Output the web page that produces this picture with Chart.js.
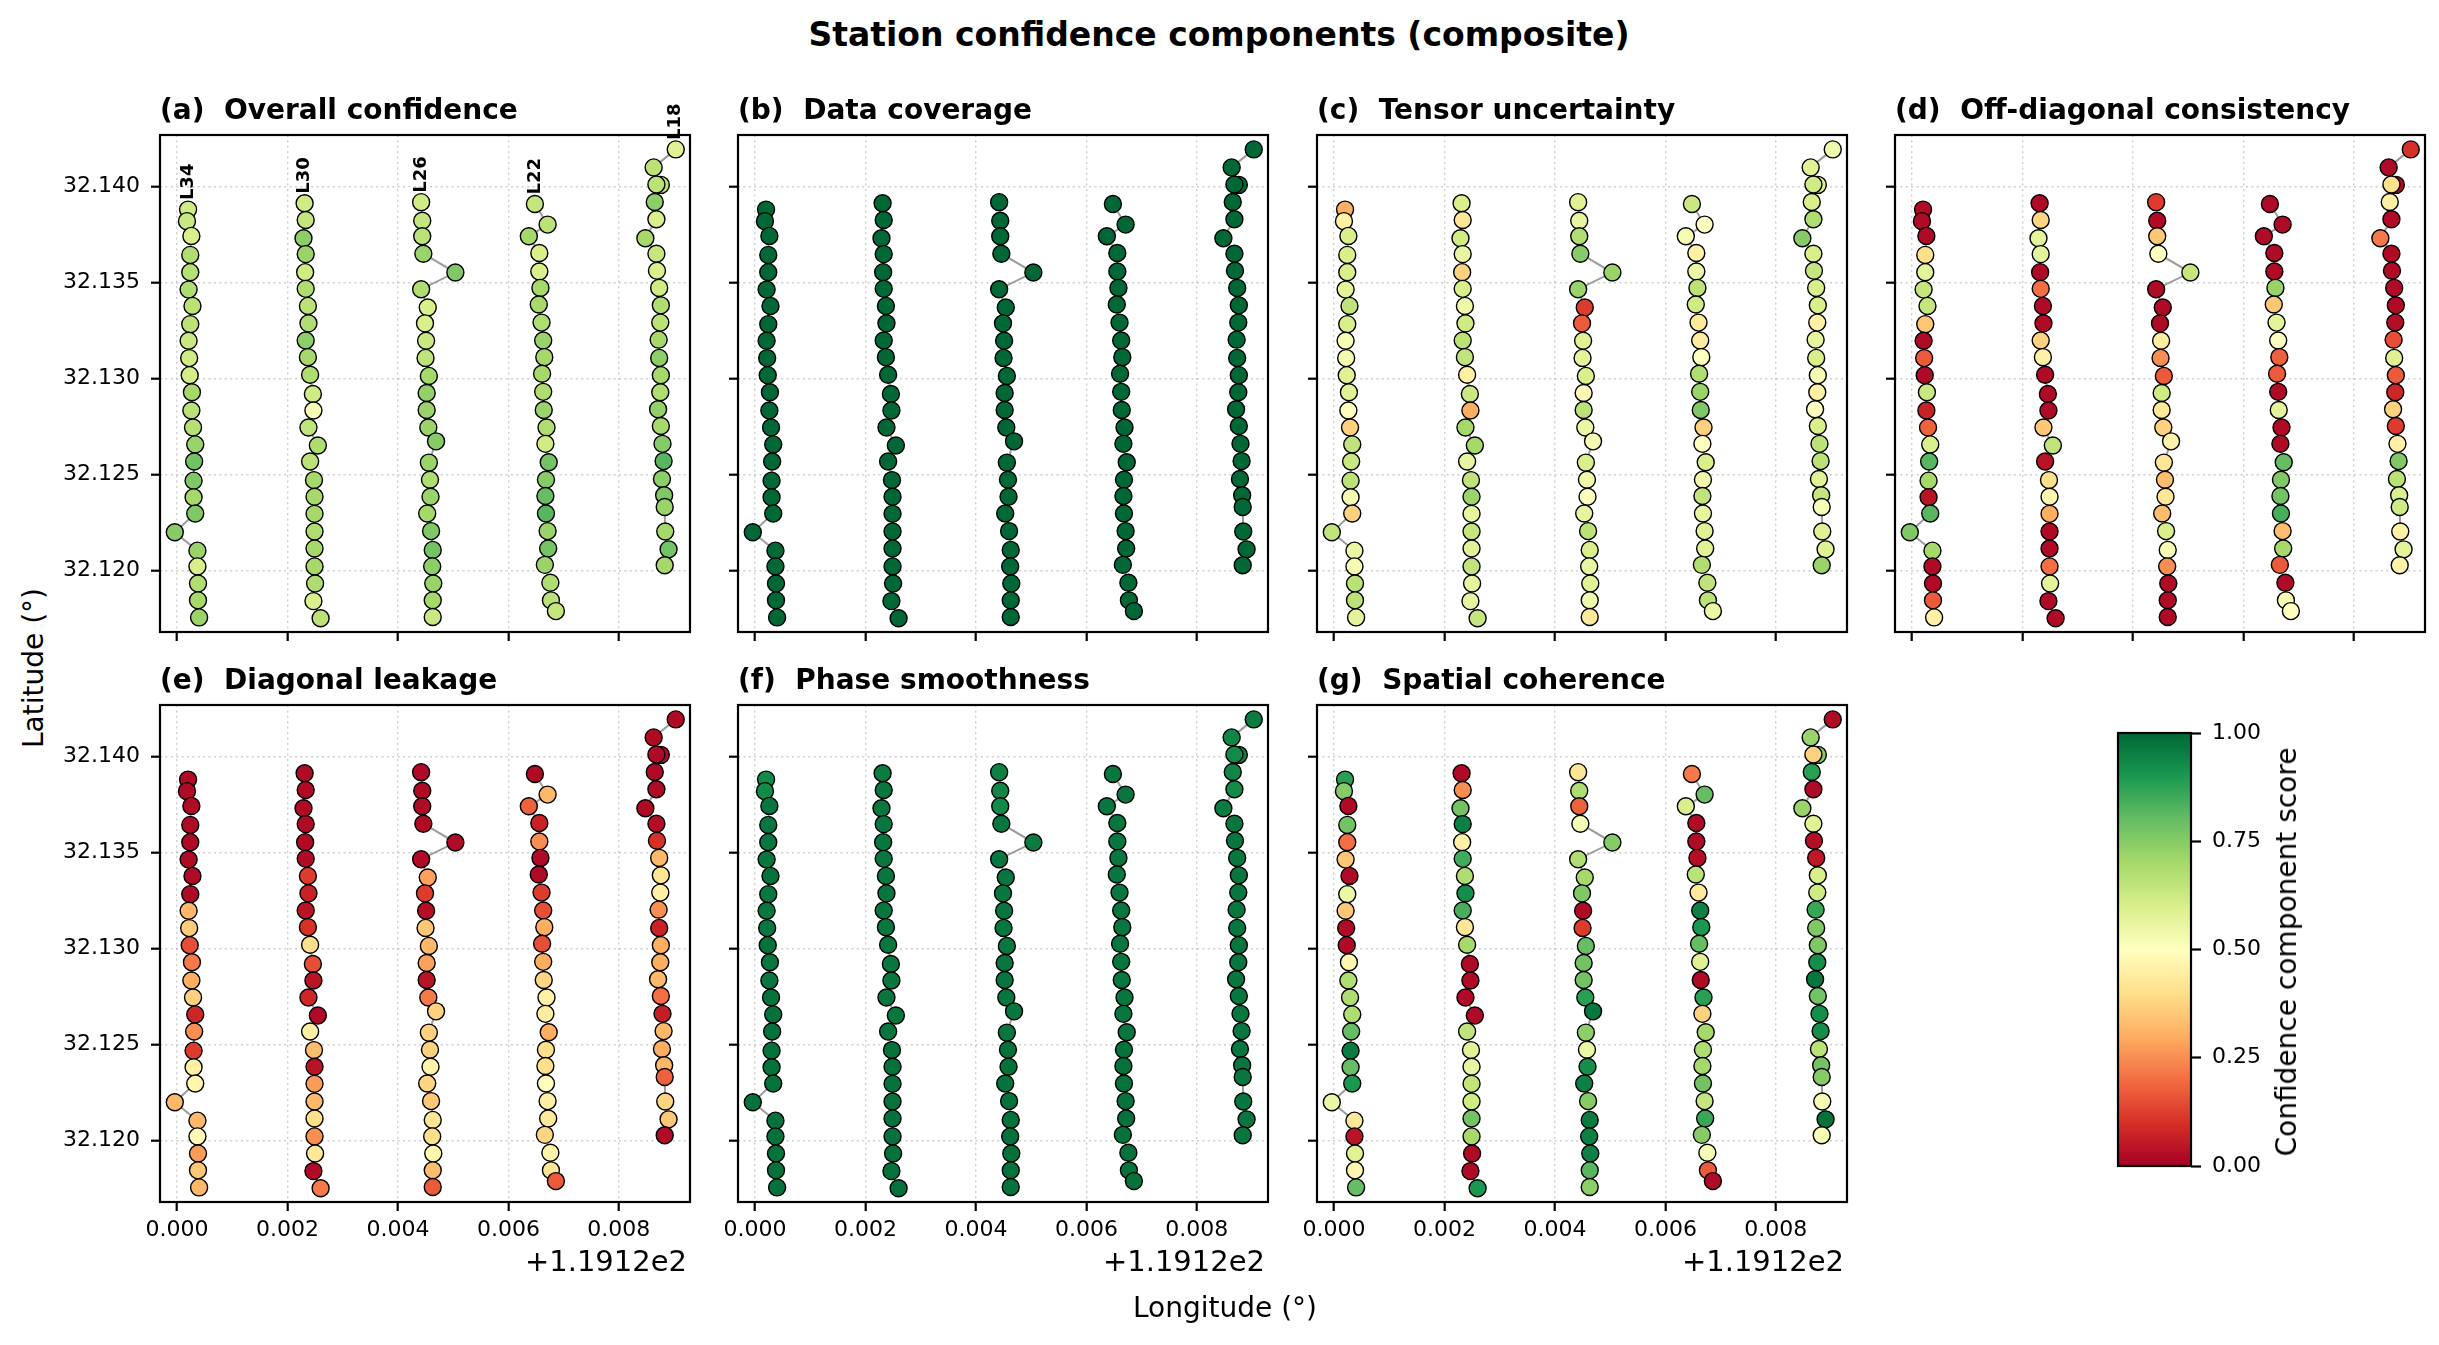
<!DOCTYPE html>
<html>
<head>
<meta charset="utf-8">
<script src="https://cdn.jsdelivr.net/npm/chart.js@4.4.1/dist/chart.umd.min.js"></script>
<style>
  html, body { margin:0; padding:0; background:#fff; }
  body { width:2439px; height:1345px; position:relative; overflow:hidden; font-family:'DejaVu Sans', sans-serif; color:#000; }
  .box { position:absolute; }
  .txt { position:absolute; white-space:pre; line-height:1; }
</style>
</head>
<body>
<script>
// ---------------- DATA ----------------
const LON_OFFSET = 119.12;
const lineNames = ['L34', 'L30', 'L26', 'L22', 'L18'];

// station longitudes (offset from 119.12 deg) and latitudes, north to south
const lonL34 = [0.00020,0.00018,0.00026,0.00024,0.00024,0.00021,0.00028,0.00024,0.00021,0.00022,0.00023,0.00027,0.00026,0.00029,0.00033,0.00031,0.00030,0.00030,0.00033,-0.00004,0.00037,0.00037,0.00038,0.00038,0.00040];
const latL34 = [32.13880,32.13820,32.13743,32.13644,32.13554,32.13463,32.13378,32.13283,32.13196,32.13106,32.13017,32.12928,32.12833,32.12744,32.12656,32.12567,32.12467,32.12380,32.12296,32.12198,32.12102,32.12020,32.11931,32.11843,32.11754];
const lonL30 = [0.00231,0.00233,0.00229,0.00233,0.00232,0.00233,0.00237,0.00238,0.00233,0.00237,0.00241,0.00246,0.00247,0.00238,0.00255,0.00241,0.00248,0.00249,0.00249,0.00249,0.00249,0.00249,0.00250,0.00247,0.00260];
const latL30 = [32.13913,32.13826,32.13731,32.13648,32.13554,32.13467,32.13378,32.13287,32.13198,32.13111,32.13019,32.12919,32.12833,32.12744,32.12650,32.12567,32.12470,32.12383,32.12294,32.12202,32.12113,32.12020,32.11931,32.11839,32.11750];
const lonL26 = [0.00442,0.00444,0.00444,0.00446,0.00504,0.00442,0.00454,0.00449,0.00451,0.00450,0.00456,0.00452,0.00452,0.00455,0.00469,0.00456,0.00458,0.00459,0.00453,0.00460,0.00463,0.00462,0.00464,0.00463,0.00463];
const latL26 = [32.13919,32.13822,32.13741,32.13650,32.13552,32.13465,32.13370,32.13287,32.13196,32.13107,32.13013,32.12924,32.12835,32.12744,32.12672,32.12561,32.12472,32.12383,32.12296,32.12204,32.12106,32.12020,32.11931,32.11843,32.11756];
const lonL22 = [0.00648,0.00671,0.00637,0.00656,0.00656,0.00658,0.00655,0.00660,0.00663,0.00665,0.00661,0.00663,0.00664,0.00669,0.00667,0.00673,0.00668,0.00667,0.00668,0.00671,0.00672,0.00666,0.00676,0.00677,0.00686];
const latL22 = [32.13909,32.13802,32.13741,32.13654,32.13557,32.13472,32.13385,32.13291,32.13198,32.13111,32.13024,32.12930,32.12835,32.12744,32.12659,32.12563,32.12472,32.12387,32.12296,32.12204,32.12113,32.12028,32.11935,32.11843,32.11787];
const lonL18 = [0.00903,0.00863,0.00876,0.00868,0.00865,0.00868,0.00848,0.00868,0.00869,0.00873,0.00876,0.00875,0.00872,0.00873,0.00876,0.00875,0.00871,0.00876,0.00879,0.00881,0.00878,0.00882,0.00883,0.00884,0.00890,0.00883];
const latL18 = [32.14194,32.14100,32.14009,32.14011,32.13920,32.13830,32.13731,32.13650,32.13561,32.13472,32.13381,32.13291,32.13202,32.13107,32.13017,32.12928,32.12839,32.12752,32.12659,32.12569,32.12476,32.12391,32.12330,32.12202,32.12109,32.12026];

// component scores per line [L34, L30, L26, L22, L18]
const overallScore = [
  [0.62,0.63,0.60,0.68,0.67,0.68,0.66,0.66,0.63,0.62,0.61,0.70,0.66,0.67,0.72,0.78,0.76,0.70,0.76,0.75,0.72,0.60,0.68,0.70,0.72],
  [0.62,0.64,0.74,0.72,0.62,0.68,0.66,0.68,0.74,0.70,0.68,0.62,0.52,0.65,0.68,0.66,0.70,0.70,0.70,0.68,0.70,0.70,0.68,0.60,0.66],
  [0.62,0.64,0.66,0.72,0.76,0.68,0.60,0.60,0.63,0.65,0.70,0.73,0.72,0.72,0.75,0.72,0.68,0.72,0.70,0.76,0.78,0.74,0.72,0.70,0.63],
  [0.64,0.66,0.70,0.60,0.60,0.70,0.70,0.68,0.72,0.70,0.70,0.68,0.72,0.68,0.62,0.78,0.75,0.80,0.82,0.72,0.78,0.72,0.68,0.66,0.64],
  [0.58,0.66,0.66,0.66,0.74,0.60,0.70,0.64,0.60,0.62,0.68,0.66,0.70,0.74,0.70,0.68,0.73,0.70,0.75,0.82,0.74,0.76,0.72,0.70,0.78,0.70]
];
const coverageScore = [
  [1,1,1,1,1,1,1,1,1,1,1,1,1,1,1,1,1,1,1,1,1,1,1,1,1],
  [1,1,1,1,1,1,1,1,1,1,1,1,1,1,1,1,1,1,1,1,1,1,1,1,1],
  [1,1,1,1,1,1,1,1,1,1,1,1,1,1,1,1,1,1,1,1,1,1,1,1,1],
  [1,1,1,1,1,1,1,1,1,1,1,1,1,1,1,1,1,1,1,1,1,1,1,1,1],
  [1,1,1,1,1,1,1,1,1,1,1,1,1,1,1,1,1,1,1,1,1,1,1,1,1,1]
];
const tensorScore = [
  [0.30,0.45,0.60,0.60,0.60,0.57,0.65,0.60,0.52,0.53,0.58,0.58,0.50,0.37,0.65,0.63,0.66,0.53,0.37,0.65,0.55,0.52,0.66,0.66,0.57],
  [0.60,0.42,0.62,0.56,0.37,0.60,0.54,0.62,0.66,0.65,0.45,0.63,0.30,0.70,0.70,0.56,0.65,0.72,0.56,0.64,0.58,0.65,0.56,0.56,0.64],
  [0.58,0.56,0.68,0.75,0.72,0.72,0.12,0.17,0.58,0.57,0.60,0.48,0.66,0.55,0.52,0.60,0.54,0.50,0.56,0.66,0.60,0.56,0.58,0.54,0.43],
  [0.63,0.50,0.52,0.45,0.55,0.66,0.62,0.43,0.44,0.50,0.68,0.72,0.76,0.37,0.50,0.60,0.54,0.65,0.56,0.58,0.58,0.68,0.65,0.66,0.55],
  [0.54,0.58,0.60,0.62,0.60,0.68,0.75,0.60,0.64,0.60,0.60,0.45,0.56,0.60,0.52,0.45,0.50,0.60,0.66,0.66,0.58,0.64,0.52,0.58,0.58,0.72]
];
const offdiagScore = [
  [0.02,0.02,0.02,0.40,0.57,0.64,0.64,0.35,0.02,0.17,0.02,0.63,0.07,0.18,0.60,0.82,0.70,0.04,0.82,0.76,0.70,0.02,0.02,0.17,0.45],
  [0.02,0.38,0.57,0.57,0.02,0.20,0.02,0.02,0.37,0.45,0.02,0.02,0.02,0.35,0.65,0.04,0.40,0.47,0.30,0.02,0.02,0.20,0.57,0.02,0.02],
  [0.12,0.02,0.35,0.50,0.64,0.02,0.02,0.02,0.44,0.25,0.17,0.62,0.43,0.37,0.46,0.42,0.33,0.42,0.33,0.60,0.52,0.25,0.02,0.02,0.02],
  [0.02,0.02,0.02,0.02,0.02,0.72,0.35,0.57,0.50,0.18,0.17,0.02,0.57,0.02,0.02,0.80,0.76,0.78,0.84,0.33,0.70,0.17,0.02,0.52,0.50],
  [0.10,0.02,0.02,0.40,0.45,0.02,0.22,0.02,0.02,0.02,0.02,0.03,0.15,0.58,0.17,0.08,0.37,0.12,0.45,0.76,0.66,0.60,0.62,0.45,0.57,0.46]
];
const diagScore = [
  [0.02,0.02,0.02,0.02,0.02,0.02,0.02,0.02,0.32,0.36,0.15,0.22,0.30,0.37,0.08,0.25,0.12,0.45,0.47,0.32,0.32,0.48,0.27,0.35,0.32],
  [0.02,0.02,0.02,0.02,0.02,0.02,0.12,0.07,0.04,0.10,0.40,0.15,0.04,0.08,0.02,0.45,0.33,0.04,0.27,0.32,0.40,0.25,0.43,0.02,0.22],
  [0.02,0.02,0.02,0.02,0.02,0.02,0.28,0.12,0.03,0.35,0.32,0.28,0.04,0.22,0.37,0.37,0.37,0.46,0.38,0.35,0.42,0.40,0.47,0.33,0.17],
  [0.02,0.32,0.18,0.07,0.25,0.02,0.02,0.12,0.15,0.30,0.15,0.30,0.38,0.45,0.44,0.30,0.40,0.40,0.50,0.45,0.43,0.38,0.46,0.42,0.17],
  [0.02,0.02,0.02,0.02,0.02,0.02,0.02,0.03,0.10,0.32,0.42,0.45,0.25,0.07,0.30,0.30,0.32,0.20,0.06,0.32,0.30,0.32,0.18,0.38,0.35,0.02]
];
const phaseScore = [
  [0.93,0.93,0.97,0.97,0.97,0.97,0.98,0.97,0.97,0.97,0.98,0.97,0.97,0.98,0.98,0.98,0.98,0.98,0.98,0.98,0.98,0.98,0.98,0.98,0.98],
  [0.96,0.97,0.97,0.97,0.97,0.97,0.97,0.97,0.97,0.97,0.97,0.97,0.97,0.97,0.97,0.97,0.98,0.98,0.98,0.98,0.98,0.98,0.98,0.98,0.98],
  [0.95,0.94,0.93,0.97,0.96,0.97,0.97,0.97,0.97,0.97,0.97,0.97,0.97,0.97,0.97,0.97,0.98,0.98,0.98,0.98,0.98,0.98,0.98,0.98,0.98],
  [0.97,0.97,0.97,0.97,0.97,0.97,0.97,0.97,0.97,0.97,0.97,0.97,0.97,0.97,0.97,0.97,0.98,0.98,0.98,0.98,0.98,0.98,0.98,0.98,0.98],
  [0.96,0.94,0.96,0.93,0.94,0.93,0.96,0.97,0.97,0.97,0.97,0.97,0.97,0.97,0.97,0.97,0.97,0.97,0.97,0.97,0.97,0.97,0.97,0.97,0.97,0.97]
];
const spatialScore = [
  [0.88,0.75,0.02,0.78,0.20,0.35,0.02,0.55,0.35,0.02,0.02,0.47,0.68,0.68,0.68,0.80,0.96,0.80,0.90,0.55,0.43,0.04,0.58,0.47,0.80],
  [0.02,0.25,0.78,0.95,0.45,0.85,0.68,0.92,0.84,0.42,0.70,0.02,0.02,0.02,0.02,0.65,0.58,0.56,0.65,0.62,0.78,0.70,0.02,0.02,0.90],
  [0.42,0.68,0.18,0.52,0.75,0.68,0.70,0.76,0.02,0.12,0.80,0.78,0.78,0.88,0.97,0.74,0.55,0.92,0.95,0.75,0.96,0.95,0.95,0.82,0.74],
  [0.22,0.80,0.60,0.02,0.02,0.03,0.66,0.43,0.95,0.90,0.80,0.58,0.02,0.88,0.37,0.70,0.68,0.70,0.78,0.64,0.86,0.75,0.52,0.17,0.02],
  [0.02,0.72,0.75,0.37,0.88,0.02,0.72,0.58,0.03,0.05,0.60,0.62,0.86,0.76,0.76,0.92,0.97,0.78,0.92,0.92,0.66,0.78,0.75,0.52,0.98,0.52]
];

const panelTitles = ['(a)  Overall confidence','(b)  Data coverage','(c)  Tensor uncertainty','(d)  Off-diagonal consistency','(e)  Diagonal leakage','(f)  Phase smoothness','(g)  Spatial coherence'];
const xTickValues = [0.000, 0.002, 0.004, 0.006, 0.008];   // offsets from 119.12
const yTickValues = [32.120, 32.125, 32.130, 32.135, 32.140];
const cbarTickValues = [0.00, 0.25, 0.50, 0.75, 1.00];
const xRange = [-0.000308, 0.009288];
const yRange = [32.11678, 32.14269];

// ---------------- RENDERING ----------------
const FONT = "'DejaVu Sans', sans-serif";
Chart.defaults.font.family = FONT;
Chart.defaults.color = '#000';

const LINE_LON = [lonL34, lonL30, lonL26, lonL22, lonL18];
const LINE_LAT = [latL34, latL30, latL26, latL22, latL18];
const SCORES = [overallScore, coverageScore, tensorScore, offdiagScore, diagScore, phaseScore, spatialScore];

const RDYLGN = ['#a50026','#d73027','#f46d43','#fdae61','#fee08b','#ffffbf','#d9ef8b','#a6d96a','#66bd63','#1a9850','#006837'];
function hexRgb(h){ return [parseInt(h.slice(1,3),16), parseInt(h.slice(3,5),16), parseInt(h.slice(5,7),16)]; }
function cmap(v){
  v = Math.max(0, Math.min(1, v));
  const t = v * 10, i = Math.min(9, Math.floor(t)), f = t - i;
  const a = hexRgb(RDYLGN[i]), b = hexRgb(RDYLGN[i+1]);
  return 'rgb(' + a.map((c,k)=>Math.round(c + (b[k]-c)*f)).join(',') + ')';
}

const COLS = [160, 738, 1317, 1895];
const ROWS = [135, 705];
const AXW = 530, AXH = 497;
const PADL = 110, PADT = 70, PADR = 40, PADB = 70;

const framePlugin = {
  id: 'frame',
  afterDraw(chart){
    const {ctx, chartArea:a} = chart;
    ctx.save(); ctx.strokeStyle = '#000'; ctx.lineWidth = 2.2;
    ctx.strokeRect(a.left, a.top, a.right - a.left, a.bottom - a.top);
    ctx.restore();
  }
};
const lineLabelPlugin = {
  id: 'lineLabels',
  afterDatasetsDraw(chart, args, opts){
    if (!opts || !opts.show) return;
    const {ctx, scales:{x, y}} = chart;
    ctx.save();
    ctx.font = 'bold 18px ' + FONT; ctx.fillStyle = '#000';
    ctx.textAlign = 'left'; ctx.textBaseline = 'middle';
    lineNames.forEach((name, i) => {
      const lats = LINE_LAT[i]; let k = 0;
      lats.forEach((v, j) => { if (v > lats[k]) k = j; });
      const px = x.getPixelForValue(LON_OFFSET + LINE_LON[i][k]);
      const py = y.getPixelForValue(lats[k]);
      ctx.save(); ctx.translate(px, py - 9.5); ctx.rotate(-Math.PI/2);
      ctx.fillText(name, 0, 0); ctx.restore();
    });
    ctx.restore();
  }
};

function addText(txt, css){
  const d = document.createElement('div');
  d.className = 'txt'; d.textContent = txt;
  Object.assign(d.style, css);
  document.body.appendChild(d);
  return d;
}

function gridOpts(){
  return { color: 'rgba(165,165,165,0.55)', lineWidth: 1.4, tickColor: '#000', tickWidth: 2.2, tickLength: 9, tickBorderDash: [] };
}

function makePanel(p){
  const c = p < 4 ? p : p - 4;
  const r = p < 4 ? 0 : 1;
  const L = COLS[c], T = ROWS[r];
  const showX = r === 1, showY = c === 0;
  const div = document.createElement('div');
  div.className = 'box';
  div.style.left = (L - PADL) + 'px'; div.style.top = (T - PADT) + 'px';
  div.style.width = (AXW + PADL + PADR) + 'px'; div.style.height = (AXH + PADT + PADB) + 'px';
  const cv = document.createElement('canvas'); div.appendChild(cv); document.body.appendChild(div);
  const scores = SCORES[p];
  new Chart(cv, {
    type: 'scatter',
    data: {
      datasets: lineNames.map((name, i) => ({
        label: name,
        data: LINE_LON[i].map((lo, j) => ({ x: LON_OFFSET + lo, y: LINE_LAT[i][j] })),
        showLine: true,
        borderColor: 'rgba(145,145,145,0.9)',
        borderWidth: 2,
        pointBackgroundColor: scores[i].map(cmap),
        pointBorderColor: '#000',
        pointBorderWidth: 1.4,
        pointRadius: 8.5,
        pointHoverRadius: 8.5,
        clip: false
      }))
    },
    options: {
      responsive: true, maintainAspectRatio: false, animation: false, events: [],
      layout: { padding: { left: 0, top: PADT, right: PADR, bottom: 0 } },
      plugins: { legend: { display: false }, tooltip: { enabled: false }, lineLabels: { show: p === 0 } },
      scales: {
        x: {
          type: 'linear', min: LON_OFFSET + xRange[0], max: LON_OFFSET + xRange[1], bounds: 'data',
          afterFit: s => { s.height = PADB; },
          afterBuildTicks: s => { s.ticks = xTickValues.map(v => ({ value: LON_OFFSET + v })); },
          ticks: { display: showX, autoSkip: false, maxRotation: 0, padding: 6, color: '#000',
                   font: { size: 22, family: FONT }, callback: v => (v - LON_OFFSET).toFixed(3) },
          grid: gridOpts(),
          border: { display: false, dash: [2, 3.4] }
        },
        y: {
          type: 'linear', min: yRange[0], max: yRange[1], bounds: 'data',
          afterFit: s => { s.width = PADL; },
          afterBuildTicks: s => { s.ticks = yTickValues.map(v => ({ value: v })); },
          ticks: { display: showY, autoSkip: false, padding: 11, color: '#000',
                   font: { size: 22, family: FONT }, callback: v => v.toFixed(3) },
          grid: gridOpts(),
          border: { display: false, dash: [2, 3.4] }
        }
      }
    },
    plugins: [framePlugin, lineLabelPlugin]
  });
  addText(panelTitles[p], { left: L + 'px', top: (T - 15 - 23.7) + 'px', fontSize: '28px', fontWeight: 'bold' });
  if (showX) {
    addText('+1.1912e2', { left: (L + AXW - 3) + 'px', top: '1247px', fontSize: '29px', transform: 'translateX(-100%)' });
  }
}
for (let p = 0; p < 7; p++) makePanel(p);

// ---------------- COLORBAR ----------------
(function(){
  const CBL = 2118, CBT = 733, CBW = 73, CBH = 433;
  const pl = 20, pt = 30, pb = 30, yw = 110;
  const div = document.createElement('div'); div.className = 'box';
  div.style.left = (CBL - pl) + 'px'; div.style.top = (CBT - pt) + 'px';
  div.style.width = (pl + CBW + yw) + 'px'; div.style.height = (pt + CBH + pb) + 'px';
  const cv = document.createElement('canvas'); div.appendChild(cv); document.body.appendChild(div);
  const gradPlugin = {
    id: 'cbarGrad',
    beforeDatasetsDraw(chart){
      const {ctx, chartArea:a} = chart;
      const g = ctx.createLinearGradient(0, a.bottom, 0, a.top);
      RDYLGN.forEach((c, i) => g.addColorStop(i / 10, c));
      ctx.save(); ctx.fillStyle = g; ctx.fillRect(a.left, a.top, a.right - a.left, a.bottom - a.top); ctx.restore();
    }
  };
  new Chart(cv, {
    type: 'scatter',
    data: { datasets: [{ data: [] }] },
    options: {
      responsive: true, maintainAspectRatio: false, animation: false, events: [],
      layout: { padding: { left: pl, top: pt, right: 0, bottom: pb } },
      plugins: { legend: { display: false }, tooltip: { enabled: false } },
      scales: {
        x: { display: false, min: 0, max: 1 },
        y: {
          position: 'right', min: 0, max: 1, bounds: 'data',
          afterFit: s => { s.width = yw; },
          afterBuildTicks: s => { s.ticks = cbarTickValues.map(v => ({ value: v })); },
          ticks: { padding: 11, color: '#000', font: { size: 22, family: FONT }, callback: v => v.toFixed(2) },
          grid: { drawOnChartArea: false, tickColor: '#000', tickWidth: 2.2, tickLength: 10 },
          border: { display: false }
        }
      }
    },
    plugins: [gradPlugin, framePlugin]
  });
  addText('Confidence component score', { left: '2287px', top: '952px', fontSize: '28px', transform: 'translate(-50%,-50%) rotate(-90deg)' });
})();

// ---------------- FIGURE TEXT ----------------
addText('Station confidence components (composite)', { left: '1219px', top: '18px', fontSize: '33px', fontWeight: 'bold', transform: 'translateX(-50%)' });
addText('Longitude (°)', { left: '1225px', top: '1294px', fontSize: '28px', transform: 'translateX(-50%)' });
addText('Latitude (°)', { left: '34px', top: '668px', fontSize: '28px', transform: 'translate(-50%,-50%) rotate(-90deg)' });
</script>
</body>
</html>
